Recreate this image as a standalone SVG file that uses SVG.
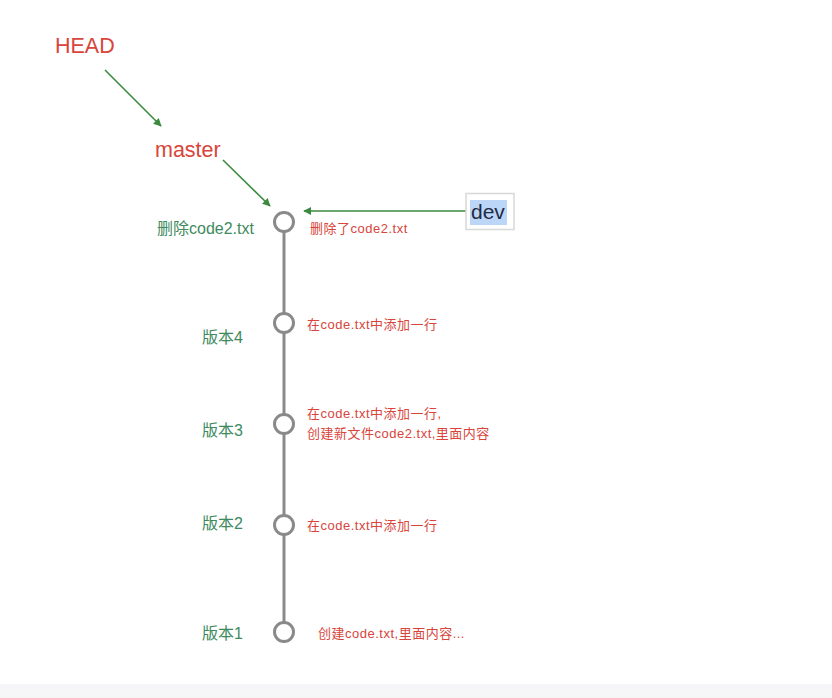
<svg xmlns="http://www.w3.org/2000/svg" width="832" height="698" viewBox="0 0 832 698">
<style>
.ptr{font-family:"Liberation Sans","Noto Sans CJK SC",sans-serif;font-size:21.5px;fill:#d8453b}
.ver{font-family:"Liberation Sans","Noto Sans CJK SC",sans-serif;font-size:16px;fill:#3e8a5e}
.desc{font-family:"Liberation Sans","Noto Sans CJK SC",sans-serif;font-size:13px;letter-spacing:0.5px;fill:#d8453b}
.commit{fill:#fff;stroke:#8a8a8a;stroke-width:3}
.arrow{stroke:#3b8a3e;stroke-width:1.6;fill:none;marker-end:url(#ah)}
</style>
<defs>
<marker id="ah" viewBox="0 0 10 10" refX="9" refY="5" markerWidth="8" markerHeight="8" orient="auto" markerUnits="userSpaceOnUse">
<path d="M0,0 L10,5 L0,10 z" fill="#3b8a3e"/>
</marker>
</defs>
<rect x="0" y="0" width="832" height="698" fill="#ffffff"/>
<rect x="0" y="684" width="832" height="14" fill="#f6f6f8"/>
<g id="connectors">
<line x1="284" y1="232" x2="284" y2="622" stroke="#8a8a8a" stroke-width="3"/>
<line class="arrow" x1="105" y1="70" x2="161" y2="126"/>
<line class="arrow" x1="223" y1="160" x2="270" y2="206"/>
<line class="arrow" x1="466" y1="211" x2="304" y2="211"/>
</g>
<g id="HEAD"><text class="ptr" x="55" y="53">HEAD</text></g>
<g id="master"><text class="ptr" x="155" y="157">master</text></g>
<g id="dev">
<rect x="466" y="193.5" width="48" height="36" fill="#fff" stroke="#d8d8d8" stroke-width="1.5"/>
<rect x="470" y="200" width="37" height="25" fill="#bcd6f7"/>
<text x="471" y="219" font-family="Liberation Sans,sans-serif" font-size="21" fill="#1e2b44">dev</text>
</g>
<g id="c5">
<circle class="commit" cx="284" cy="222" r="9.5"/>
<text class="ver" x="157" y="234">删除code2.txt</text>
<text class="desc" x="310" y="233">删除了code2.txt</text>
</g>
<g id="c4">
<circle class="commit" cx="284" cy="323" r="9.5"/>
<text class="ver" x="202" y="343">版本4</text>
<text class="desc" x="307" y="329">在code.txt中添加一行</text>
</g>
<g id="c3">
<circle class="commit" cx="284" cy="424" r="9.5"/>
<text class="ver" x="202" y="436">版本3</text>
<text class="desc" x="307" y="418">在code.txt中添加一行,</text>
<text class="desc" x="307" y="438">创建新文件code2.txt,里面内容</text>
</g>
<g id="c2">
<circle class="commit" cx="284" cy="525" r="9.5"/>
<text class="ver" x="202" y="529">版本2</text>
<text class="desc" x="307" y="530">在code.txt中添加一行</text>
</g>
<g id="c1">
<circle class="commit" cx="284" cy="632" r="9.5"/>
<text class="ver" x="202" y="639">版本1</text>
<text class="desc" x="318" y="638">创建code.txt,里面内容...</text>
</g>
</svg>
